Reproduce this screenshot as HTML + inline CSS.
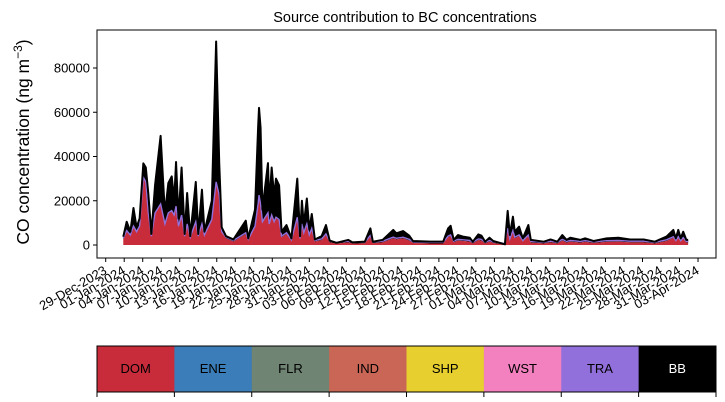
<!DOCTYPE html>
<html><head><meta charset="utf-8"><style>
body{margin:0;background:#fff;}
svg{display:block;font-family:"Liberation Sans",sans-serif;}
</style></head><body>
<svg id="chart" width="725" height="402" viewBox="0 0 725 402">
<text x="405" y="22" font-size="14.5" text-anchor="middle">Source contribution to BC concentrations</text>
<text transform="translate(29,142) rotate(-90)" font-size="17.5" text-anchor="middle">CO concentration (ng m<tspan font-size="12" dy="-7">−3</tspan><tspan dy="7">)</tspan></text>
<g id="plot"></g>
<g id="legend"></g>
</svg>
<script>
const dayOffsets=[2.85,3.4,4.0,4.5,5.0,5.5,6.1,6.5,6.9,7.4,8.0,8.9,9.6,10.15,10.7,11.1,11.4,11.8,12.3,12.8,13.2,13.7,14.6,15,15.6,16,17.2,17.9,18.4,18.8,19.5,20.7,22.7,23.1,24.2,24.7,24.85,25.1,25.4,26.3,26.5,26.9,27.3,27.6,28.1,28.5,29.3,30.1,31.05,31.5,31.8,32.1,32.6,33,33.4,33.9,35,35.7,36.3,37.4,
39.3,40,42,42.9,43.3,44.9,46.6,47.1,48.2,49.2,49.8,52.6,54.7,55.5,55.9,56.4,57.1,57.9,59,59.5,60.4,60.9,61.5,62.2,62.8,64.7,65.15,65.5,66,66.3,67,67.6,68.5,68.9,71,72.1,73.2,74,74.7,75.3,76.9,77.7,79.1,81.2,83.1,85,87.2,89,90.9,92,92.4,92.8,93.2,93.6,94.1,94.4];
const totalValues=[3750,10500,6000,16700,8000,12000,36900,35000,23500,5000,27000,49300,14000,28000,31000,20000,37500,12000,35000,5000,23500,4000,28500,5000,25000,6000,20000,92000,37000,8000,4000,2500,11000,3000,16000,53000,62000,53000,16000,37000,18000,35000,22000,30000,27000,6000,9000,3000,30000,4000,20000,9000,21000,7000,14000,2500,4000,9000,2000,1000,
2300,1200,1500,7500,1500,2300,6800,5300,6300,4200,1800,1500,1500,7500,8700,2300,4500,3800,3300,1500,4800,4200,1500,3300,1800,300,15400,4500,12800,6000,8300,3000,9000,2300,1500,2500,1500,4500,2300,3300,2300,3000,1800,3000,3300,2500,2500,1500,3800,6800,3000,6800,3000,6000,2300,2300];
const domValues=[2500,6000,4000,8000,5500,8000,30000,28000,14000,3500,14000,18000,9000,14000,15000,13000,17000,8000,13000,3500,9000,3000,10000,3500,9000,4000,11000,28000,22000,5500,3000,1500,5000,2000,8000,18000,22000,18000,10000,14000,9000,13000,10000,12000,11000,3500,5000,1800,12000,2500,9000,5000,9000,4000,7000,1500,2200,4500,1200,600,
1200,600,800,3800,800,1200,3000,2500,3000,2000,900,700,700,3500,4000,1200,2000,1800,1500,700,2200,2000,700,1500,900,150,7000,2200,6000,3000,4000,1500,4000,1100,700,1200,700,2000,1100,1500,1100,1400,900,1400,1500,1200,1200,700,1800,3200,1500,3200,1400,2800,1100,1100];
const yTicks=[0,20000,40000,60000,80000];
const tickLabels=["29-Dec-2023","01-Jan-2024","04-Jan-2024","07-Jan-2024","10-Jan-2024","13-Jan-2024","16-Jan-2024","19-Jan-2024","22-Jan-2024","25-Jan-2024","28-Jan-2024","31-Jan-2024","03-Feb-2024","06-Feb-2024","09-Feb-2024","12-Feb-2024","15-Feb-2024","18-Feb-2024","21-Feb-2024","24-Feb-2024","27-Feb-2024","01-Mar-2024","04-Mar-2024","07-Mar-2024","10-Mar-2024","13-Mar-2024","16-Mar-2024","19-Mar-2024","22-Mar-2024","25-Mar-2024","28-Mar-2024","31-Mar-2024","03-Apr-2024"];
const sources=["DOM","ENE","FLR","IND","SHP","WST","TRA","BB"];
const sourceColors=["#c82b3a","#3b7db8","#6f8473","#c96656","#e6cf2e","#f381c0","#9270dc","#000000"];

const NS="http://www.w3.org/2000/svg";
const L=97,R=716,T=30,B=258;
const xs=d=>105.7+d*6.17;
const ys=v=>245-v*177/80000;
function mk(tag,attrs,parent){const e=document.createElementNS(NS,tag);for(const k in attrs)e.setAttribute(k,attrs[k]);parent.appendChild(e);return e;}
const plot=document.getElementById('plot');

let p="M"+xs(dayOffsets[0])+","+ys(0);
dayOffsets.forEach((d,i)=>{p+="L"+xs(d).toFixed(2)+","+ys(domValues[i]).toFixed(2);});
p+="L"+xs(dayOffsets[dayOffsets.length-1])+","+ys(0)+"Z";
let bb="M"+xs(dayOffsets[0]).toFixed(2)+","+ys(domValues[0]).toFixed(2);
dayOffsets.forEach((d,i)=>{bb+="L"+xs(d).toFixed(2)+","+ys(totalValues[i]).toFixed(2);});
for(let i=dayOffsets.length-1;i>=0;i--){bb+="L"+xs(dayOffsets[i]).toFixed(2)+","+ys(domValues[i]).toFixed(2);}
bb+="Z";
const bbArea=mk('path',{d:bb,fill:'#000'},plot);


const domArea=mk('path',{d:p,fill:'#c82b3a'},plot);


let dl="";dayOffsets.forEach((d,i)=>{dl+=(i?"L":"M")+xs(d).toFixed(2)+","+(ys(domValues[i])-1.2).toFixed(2);});
const traLine=mk('path',{d:dl,fill:'none',stroke:'#9270dc','stroke-width':1.4},plot);


let tl="";dayOffsets.forEach((d,i)=>{tl+=(i?"L":"M")+xs(d).toFixed(2)+","+ys(totalValues[i]).toFixed(2);});
const totLine=mk('path',{d:tl,fill:'none',stroke:'#000','stroke-width':2,'stroke-linejoin':'round'},plot);



const frame=mk('rect',{x:L,y:T,width:R-L,height:B-T,fill:'none',stroke:'#000','stroke-width':1},plot);



yTicks.forEach(v=>{
  const y=ys(v);
  const t=mk('line',{x1:L-4,x2:L,y1:y,y2:y,stroke:'#000'},plot);
  
  
  const tx=mk('text',{x:L-7,y:y+4.5,'font-size':13,'text-anchor':'end'},plot);
  tx.textContent=v;
  
  
});
tickLabels.forEach((lab,i)=>{
  const x=xs(i*3);
  const t=mk('line',{x1:x,x2:x,y1:B,y2:B+4,stroke:'#000'},plot);
  
  
  const tx=mk('text',{x:x+2,y:B+15,'font-size':13,'text-anchor':'end',transform:`rotate(-30 ${x+2} ${B+15})`},plot);
  tx.textContent=lab;
  
  
});

const lg=document.getElementById('legend');
const segW=(716-97)/sources.length;
sources.forEach((s,i)=>{
  const x=97+i*segW;
  const r=mk('rect',{x:x,y:346,width:segW+0.5,height:46,fill:sourceColors[i]},lg);
  
  
  const tx=mk('text',{x:x+segW/2,y:373,'font-size':13,'text-anchor':'middle',fill:s==='BB'?'#fff':'#000'},lg);
  tx.textContent=s;
  
  
});
const lf=mk('rect',{x:97,y:346,width:619,height:46,fill:'none',stroke:'#000'},lg);


for(let i=0;i<=sources.length;i++){
  const x=97+i*segW;
  const t=mk('line',{x1:x,x2:x,y1:392,y2:397,stroke:'#000'},lg);
  
  
}
</script>
</body></html>
